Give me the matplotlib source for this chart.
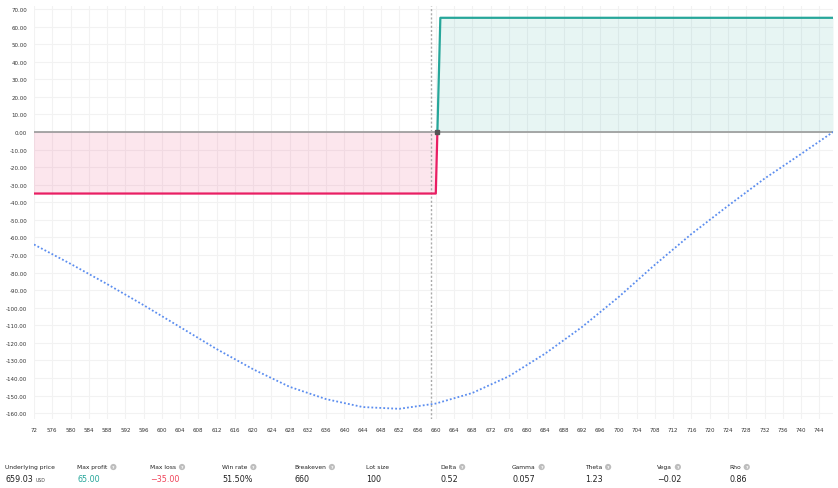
import numpy as np
import matplotlib
matplotlib.use("Agg")
import matplotlib.pyplot as plt

# ------------------------------------------------------------
# Data
# ------------------------------------------------------------
price_now = 659.03
max_profit, max_loss = 65.0, -35.0
x_min, x_max = 572, 747

# P&L at expiry (binary-style payoff)
pnl_x = [572, 660, 661, 747]
pnl_y = [-35, -35, 65, 65]

# P&L today (dotted curve)
today_x = [572, 580, 588, 596, 604, 612, 620, 628, 636, 644, 652, 660,
           668, 676, 684, 692, 700, 708, 716, 724, 732, 740, 747]
today_y = [-64, -75, -86.5, -98.5, -111, -123.5, -135, -145, -152, -156.5,
           -157.5, -154.5, -148.5, -139, -126, -111, -94, -75.5, -58, -42,
           -26.5, -12.5, 0]

x_ticks = list(range(572, 745, 4))
x_tick_labels = ["72"] + [str(v) for v in x_ticks[1:]]
y_ticks = list(range(-160, 71, 10))

stat_labels = ["Underlying price", "Max profit", "Max loss", "Win rate", "Breakeven",
               "Lot size", "Delta", "Gamma", "Theta", "Vega", "Rho"]
stat_values = ["659.03", "65.00", "\u221235.00", "51.50%", "660", "100",
               "0.52", "0.057", "1.23", "\u22120.02", "0.86"]
stat_has_help = [False, True, True, True, True, False, True, True, True, True, True]

GREEN = "#26a69a"
RED = "#e91e63"
BLUE = "#5b8def"

# ------------------------------------------------------------
# Figure
# ------------------------------------------------------------
W, H = 838, 489
fig = plt.figure(figsize=(W / 100, H / 100), dpi=100)
ax = fig.add_axes([34 / W, 1 - 420 / H, 799 / W, 413.5 / H])
ax.set_xlim(x_min, x_max)
ax.set_ylim(-163.3, 72)

for s in ax.spines.values():
    s.set_visible(False)
ax.set_xticks(x_ticks)
ax.set_xticklabels(x_tick_labels)
ax.set_yticks(y_ticks)
ax.set_yticklabels([f"{v:.2f}" for v in y_ticks])
ax.tick_params(length=0, labelsize=4, colors="#333333", pad=6)
ax.tick_params(axis="y", pad=5)
ax.grid(True, color="#f2f2f2", linewidth=0.8)
ax.set_axisbelow(True)

# crossing point of the expiry line with zero
x_cross = np.interp(0, pnl_y[1:3], pnl_x[1:3])

# fills
ax.fill_between([pnl_x[0], x_cross], [max_loss, max_loss], 0,
                color=RED, alpha=0.11, linewidth=0)
ax.fill_between([x_cross, pnl_x[2], pnl_x[3]], [0, max_profit, max_profit], 0,
                color=GREEN, alpha=0.11, linewidth=0)

# zero line
ax.axhline(0, color="#999999", linewidth=1.2, zorder=2)

# expiry line: red below zero, green above
ax.plot([pnl_x[0], pnl_x[1], x_cross], [pnl_y[0], pnl_y[1], 0],
        color=RED, linewidth=1.6, zorder=3)
ax.plot([x_cross, pnl_x[2], pnl_x[3]], [0, pnl_y[2], pnl_y[3]],
        color=GREEN, linewidth=1.6, zorder=3)
ax.plot([x_cross], [0], marker="s", markersize=2.5, color="#555555", zorder=4)

# today curve
ax.plot(today_x, today_y, color=BLUE, linewidth=1.3,
        linestyle=(0, (1, 1.2)), zorder=3)

# current price
ax.axvline(price_now, color="#aaaaaa", linewidth=1.0,
           linestyle=(0, (1.5, 1.5)), zorder=2)

# ------------------------------------------------------------
# Stats row
# ------------------------------------------------------------
col_x = [5, 77, 150, 222, 294, 366, 440, 512, 585, 657, 729]
fig.canvas.draw()
renderer = fig.canvas.get_renderer()
for i, (lab, val) in enumerate(zip(stat_labels, stat_values)):
    x = col_x[i] / W
    t = fig.text(x, 1 - 468 / H, lab, fontsize=4.3, color="#222222",
                 va="center", ha="left")
    color = "#222222"
    if lab == "Max profit":
        color = GREEN
    elif lab == "Max loss":
        color = "#f0445a"
    v = fig.text(x, 1 - 480 / H, val, fontsize=5.8, color=color,
                 va="center", ha="left")
    if lab == "Underlying price":
        bb = v.get_window_extent(renderer)
        fig.text((bb.x1 + 3) / W, 1 - 481 / H, "USD", fontsize=3.3,
                 color="#444444", va="center", ha="left")
    if stat_has_help[i]:
        bb = t.get_window_extent(renderer)
        fig.text((bb.x1 + 6) / W, 1 - 468 / H, "?", fontsize=3.2, color="white",
                 va="center", ha="center", fontweight="bold",
                 bbox=dict(boxstyle="circle,pad=0.25", fc="#bdbdbd", ec="none"))

fig.savefig("out.png", dpi=100)
